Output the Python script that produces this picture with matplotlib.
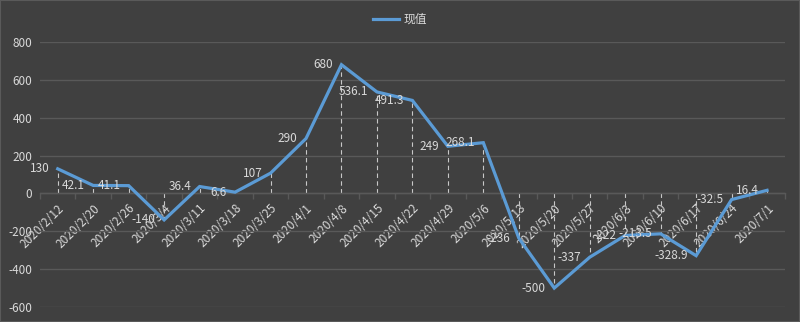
import matplotlib
matplotlib.use('Agg')
import matplotlib.pyplot as plt
from matplotlib.patches import Rectangle

plt.rcParams['font.family'] = ['Noto Sans CJK SC', 'DejaVu Sans']

# 周度数据
dates = ['2020/2/12', '2020/2/20', '2020/2/26', '2020/3/4', '2020/3/11', '2020/3/18',
         '2020/3/25', '2020/4/1', '2020/4/8', '2020/4/15', '2020/4/22', '2020/4/29',
         '2020/5/6', '2020/5/13', '2020/5/20', '2020/5/27', '2020/6/3', '2020/6/10',
         '2020/6/17', '2020/6/24', '2020/7/1']
values = [130, 42.1, 41.1, -140, 36.4, 6.6, 107, 290, 680, 536.1, 491.3, 249,
          268.1, -236, -500, -337, -222, -213.5, -328.9, -32.5, 16.4]
value_labels = ['130', '42.1', '41.1', '-140', '36.4', '6.6', '107', '290', '680',
                '536.1', '491.3', '249', '268.1', '-236', '-500', '-337', '-222',
                '-213.5', '-328.9', '-32.5', '16.4']
y_ticks = [-600, -400, -200, 0, 200, 400, 600, 800]
series_name = '现值'

BG = '#404040'
GRID = '#595959'
TEXT = '#d9d9d9'
DROP = '#c8c8c8'
LINE = '#5b9bd5'

fig = plt.figure(figsize=(8, 3.22), dpi=100, facecolor=BG)
fig.patches.append(Rectangle((0, 0), 1, 1, transform=fig.transFigure,
                             fill=False, edgecolor='#5a5a5a', linewidth=1.5))
ax = fig.add_axes([0.05, 0.0466, 0.931, 0.823])
ax.set_facecolor(BG)

x = list(range(len(dates)))

# 垂直虚线（到零轴）
for xi, v in zip(x, values):
    ax.plot([xi, xi], [0, v], color=DROP, linestyle=(0, (4, 3)), linewidth=0.8, zorder=2)

line, = ax.plot(x, values, color=LINE, linewidth=2.3, solid_joinstyle='miter', zorder=3,
                label=series_name)

for xi, v, lab in zip(x, values, value_labels):
    ax.annotate(lab, (xi, v), xytext=(-6, 0), textcoords='offset points',
                ha='right', va='center', color=TEXT, fontsize=8.5, zorder=4)

ax.set_xlim(-0.5, len(dates) - 0.5)
ax.set_ylim(-600, 800)
ax.set_yticks(y_ticks)
ax.set_yticklabels([str(t) for t in y_ticks])
ax.yaxis.grid(True, color=GRID, linewidth=1)
ax.set_axisbelow(True)
ax.tick_params(axis='y', length=0, pad=5.5, colors=TEXT, labelsize=8.5)

ax.spines['bottom'].set_position(('data', 0))
ax.spines['bottom'].set_color(GRID)
ax.spines['bottom'].set_linewidth(1)
for side in ['top', 'left', 'right']:
    ax.spines[side].set_visible(False)

ax.set_xticks(x)
ax.set_xticklabels(dates, rotation=45, ha='right', va='top', rotation_mode='anchor')
ax.set_xticks([i - 0.5 for i in range(len(dates) + 1)], minor=True)
ax.tick_params(axis='x', which='major', length=0, pad=6, colors=TEXT, labelsize=8.5)
ax.tick_params(axis='x', which='minor', length=4, direction='out', color=GRID, width=1)

leg = fig.legend(handles=[line], loc='center', bbox_to_anchor=(0.5, 0.94), frameon=False,
                 fontsize=8.5, handlelength=2.2, handletextpad=0.4)
for t in leg.get_texts():
    t.set_color(TEXT)

fig.savefig('out.png', dpi=100, facecolor=BG)
